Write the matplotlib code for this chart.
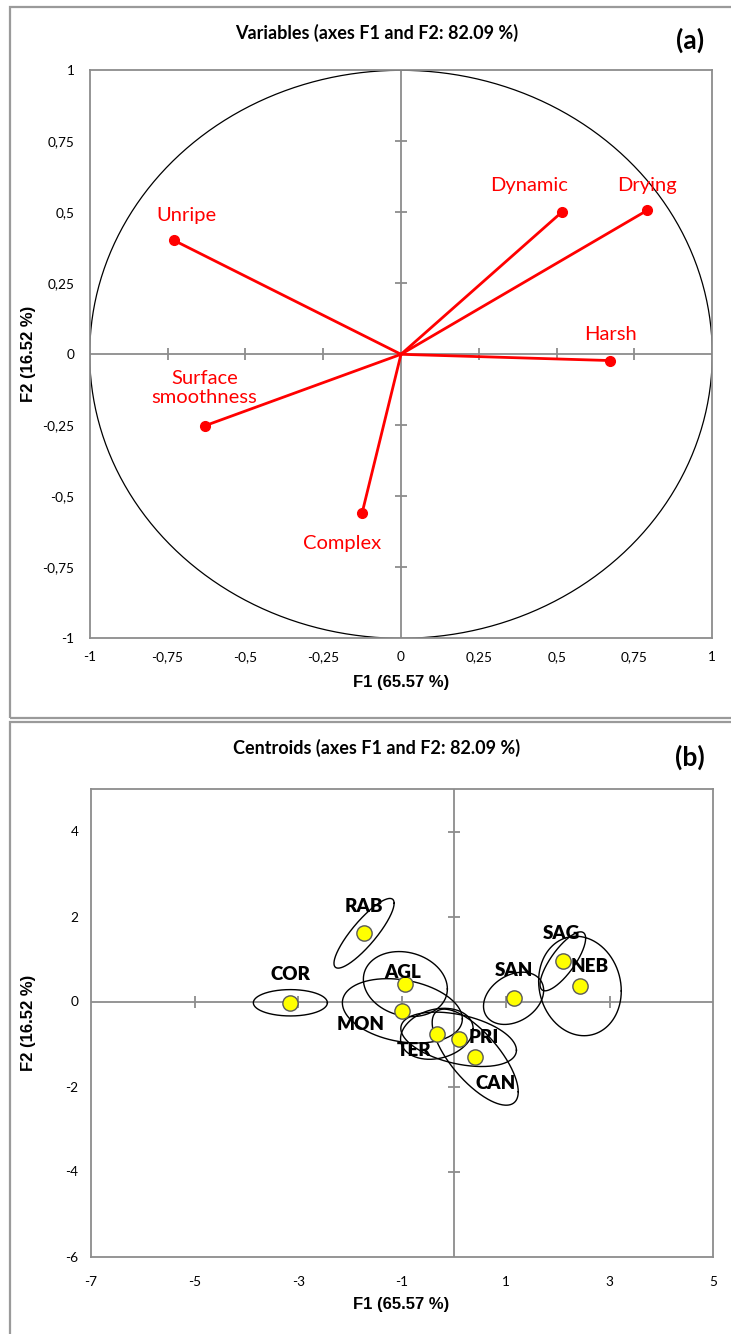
import numpy as np
import matplotlib.pyplot as plt
from matplotlib.patches import Rectangle
from matplotlib.ticker import FuncFormatter

plt.rcParams['font.family'] = ['Lato', 'DejaVu Sans']

# circulo de correlacoes (F1 x F2)
variaveis = ["Unripe", "Surface\nsmoothness", "Complex", "Dynamic", "Drying", "Harsh"]
f1_var = [-0.729, -0.631, -0.125, 0.518, 0.791, 0.672]
f2_var = [0.401, -0.252, -0.559, 0.502, 0.507, -0.022]

# centroides das amostras
amostras = ["COR", "RAB", "AGL", "MON", "TER", "PRI", "CAN", "SAN", "SAG", "NEB"]
f1_cent = [-3.155, -1.734, -0.937, -0.995, -0.33, 0.09, 0.41, 1.15, 2.10, 2.43]
f2_cent = [-0.03, 1.605, 0.41, -0.22, -0.76, -0.89, -1.31, 0.075, 0.945, 0.365]

# elipses de confianca: meia-largura em F1, meia-altura em F2, correlacao
elip_f1 = [0.714, 0.58, 0.81, 1.157, 0.70, 1.115, 0.83, 0.58, 0.44, 0.797]
elip_f2 = [0.31, 0.82, 0.765, 0.757, 0.60, 0.64, 1.13, 0.615, 0.694, 1.17]
elip_rho = [0.0, 0.86, -0.15, -0.25, 0.2, -0.4, -0.72, 0.3, 0.78, -0.1]

ticks_a = np.arange(-1, 1.01, 0.25)
ticks_bx = np.arange(-7, 5.1, 2)
ticks_by = np.arange(-6, 4.1, 2)

cinza = "#8c8c8c"
W, H = 731, 1334


def fx(px):
    return px / W


def fy(py):
    return 1 - py / H


def virgula(v, pos):
    return ("%g" % v).replace(".", ",")


def eixo_base(ax, tx, ty):
    for s in ax.spines.values():
        s.set_color(cinza)
        s.set_linewidth(1.3)
    ax.axhline(0, color=cinza, lw=1.3, zorder=1)
    ax.axvline(0, color=cinza, lw=1.3, zorder=1)
    # marcas sobre os eixos que passam pela origem
    tx = [t for t in tx if t != 0 and t != ax.get_xlim()[0] and t != ax.get_xlim()[1]]
    ty = [t for t in ty if t != 0 and t != ax.get_ylim()[0] and t != ax.get_ylim()[1]]
    ax.plot(tx, np.zeros(len(tx)), ls="none", marker="|", ms=9, mew=1.3, color=cinza, zorder=1)
    ax.plot(np.zeros(len(ty)), ty, ls="none", marker="_", ms=9, mew=1.3, color=cinza, zorder=1)
    ax.tick_params(length=0, labelsize=9.8, colors="black")
    ax.xaxis.set_major_formatter(FuncFormatter(virgula))
    ax.yaxis.set_major_formatter(FuncFormatter(virgula))


fig = plt.figure(figsize=(W / 100, H / 100), dpi=100)

# grafico (a) - variaveis
ax1 = fig.add_axes([fx(89.7), fy(638.3), fx(712.3 - 89.7), (638.3 - 70.3) / H])
ax1.set_xlim(-1, 1)
ax1.set_ylim(-1, 1)
ax1.set_xticks(ticks_a)
ax1.set_yticks(ticks_a)
eixo_base(ax1, ticks_a, ticks_a)
ax1.tick_params(axis="x", pad=9)
ax1.tick_params(axis="y", pad=11)

t = np.linspace(0, 2 * np.pi, 400)
ax1.plot(np.cos(t), np.sin(t), color="black", lw=0.9, zorder=2)

off_var = [(12, 25), (0, 38), (-20, -30), (-33, 26), (0, 25), (0, 26)]
for nome, x, y, off in zip(variaveis, f1_var, f2_var, off_var):
    ax1.plot([0, x], [0, y], color="red", lw=2, zorder=3)
    ax1.plot(x, y, "o", color="red", ms=7, zorder=4)
    ax1.annotate(nome, (x, y), xytext=off, textcoords="offset pixels",
                 ha="center", va="center", color="red", fontsize=14.5,
                 linespacing=1.1, zorder=5)

# grafico (b) - centroides
ax2 = fig.add_axes([fx(91), fy(1256.5), fx(713.2 - 91), (1256.5 - 789) / H])
ax2.set_xlim(-7, 5)
ax2.set_ylim(-6, 5)
ax2.set_xticks(ticks_bx)
ax2.set_yticks(ticks_by)
eixo_base(ax2, ticks_bx, ticks_by)
ax2.tick_params(axis="x", pad=14)
ax2.tick_params(axis="y", pad=9)

for cx, cy, sx, sy, r in zip(f1_cent, f2_cent, elip_f1, elip_f2, elip_rho):
    ex = cx + sx * np.cos(t)
    ey = cy + sy * (r * np.cos(t) + np.sqrt(1 - r ** 2) * np.sin(t))
    ax2.plot(ex, ey, color="black", lw=1, zorder=2)

ax2.plot(f1_cent, f2_cent, "o", ls="none", ms=11, mfc="#ffff00", mec="#595959",
         mew=1, zorder=4)

off_cent = [(0, 28), (0, 27), (-3, 12), (-42, -14), (-23, -17), (25, 2),
            (20, -26), (0, 28), (-1, 28), (10, 19)]
for nome, x, y, off in zip(amostras, f1_cent, f2_cent, off_cent):
    ax2.annotate(nome, (x, y), xytext=off, textcoords="offset pixels",
                 ha="center", va="center", fontsize=13.5, fontweight="heavy", zorder=5)

# titulos
fig.text(fx(377), fy(33), "Variables (axes F1 and F2: 82.09 %)", ha="center", va="center",
         fontsize=13, fontweight="bold")
fig.text(fx(690), fy(40), "(a)", ha="center", va="center", fontsize=19, fontweight="bold")
fig.text(fx(377), fy(748), "Centroids (axes F1 and F2: 82.09 %)", ha="center", va="center",
         fontsize=13, fontweight="bold")
fig.text(fx(690), fy(757), "(b)", ha="center", va="center", fontsize=19, fontweight="bold")

for ypos in (683, 1305):
    fig.text(fx(401), fy(ypos), "F1 (65.57 %)", ha="center", va="center",
             fontsize=12, fontweight="bold", family="Liberation Sans")
for ypos in (354, 1023):
    fig.text(fx(28), fy(ypos), "F2 (16.52 %)", ha="center", va="center", rotation=90,
             fontsize=12, fontweight="bold", family="Liberation Sans")

# molduras dos paineis
fig.add_artist(Rectangle((fx(9.5), fy(718)), 1.0, (718 - 7) / H, transform=fig.transFigure,
                         fill=False, ec="#9a9a9a", lw=1.6))
fig.add_artist(Rectangle((fx(9.5), -0.01), 1.0, fy(721.5) + 0.01, transform=fig.transFigure,
                         fill=False, ec="#9a9a9a", lw=1.6))

fig.savefig("out.png", dpi=100)
